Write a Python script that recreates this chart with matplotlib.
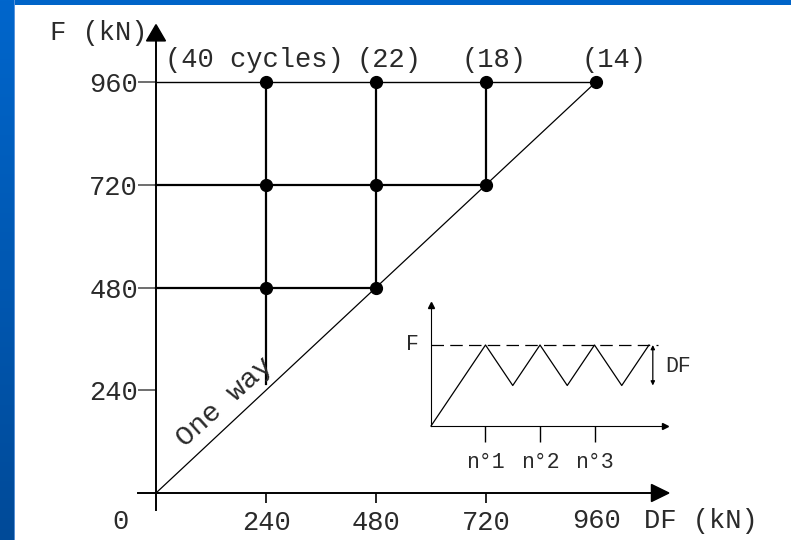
import numpy as np
import matplotlib.pyplot as plt
from matplotlib.patches import Polygon
from matplotlib.colors import LinearSegmentedColormap

# load levels (kN) and the cycle counts reached at the top level
levels = [240, 480, 720, 960]
cycle_labels = ["(40 cycles)", "(22)", "(18)", "(14)"]
# test points (DF, F) in kN
pts_df = [240, 480, 720, 960, 240, 480, 720, 240, 480]
pts_f = [960, 960, 960, 960, 720, 720, 720, 480, 480]
# vertical paths: DF, F start, F end
vert_df = [240, 480, 720]
vert_top = [960, 960, 960]
vert_bot = [255, 480, 720]
# horizontal paths: F, DF end
horiz_f = [720, 480]
horiz_end = [720, 480]

# inset: sawtooth load history
saw_x = [0, 1, 1.5, 2, 2.5, 3, 3.5, 4]
saw_y = [0, 1, 0.5, 1, 0.5, 1, 0.5, 1]
cycle_ticks = [1, 2, 3]
cycle_names = ["n°1", "n°2", "n°3"]

W, H = 791, 540
fig = plt.figure(figsize=(W / 100, H / 100), dpi=100)
fig.patch.set_facecolor("#0064c8")

# gradient strip on the left
strip = fig.add_axes([0, 0, 15 / W, 1])
grad = np.linspace(0, 1, 256).reshape(-1, 1)
cmap = LinearSegmentedColormap.from_list("edge", ["#0066cc", "#004a98"])
strip.imshow(grad, aspect="auto", cmap=cmap, extent=[0, 1, 0, 1], origin="upper")
strip.axvline(0.97, color="#6a9ee0", lw=1.2)
strip.set_axis_off()

txt = dict(family=["Liberation Mono", "DejaVu Sans Mono"], color="#2a2a2a")
FS = 19.5

# main diagram, scaled so that 240 kN = 110 px across and 103 px up
sx, sy = 440 / 960, 411 / 960
ox, oy = 156, 493
ax = fig.add_axes([15 / W, 0, (W - 15) / W, (H - 5) / H])
ax.set_xlim((15 - ox) / sx, (W - ox) / sx)
ax.set_ylim((oy - H) / sy, (oy - 5) / sy)
ax.set_facecolor("white")

for s in ["top", "right"]:
    ax.spines[s].set_visible(False)
ax.spines["left"].set_position(("data", 0))
ax.spines["bottom"].set_position(("data", 0))
ax.spines["left"].set_bounds(-40, 1060)
ax.spines["bottom"].set_bounds(-39, 1085)
ax.spines["left"].set_linewidth(1.4)
ax.spines["bottom"].set_linewidth(1.4)

ax.set_yticks(levels)
ax.set_yticklabels([str(v) for v in levels], fontsize=FS, **txt)
ax.tick_params(axis="y", direction="out", length=13, width=1.2,
               color="#555555", pad=0)
ax.set_xticks(levels[:3])
ax.set_xticklabels([str(v) for v in levels[:3]], fontsize=FS, **txt)
ax.tick_params(axis="x", direction="out", length=7, width=1.2, pad=5)
# last DF level is labelled without a tick mark
ax.text(levels[3], -66, str(levels[3]), ha="center", va="center",
        fontsize=FS, **txt)

# arrow heads
ax.add_patch(Polygon([[0, 1094], [-20.7, 1056], [20.7, 1056]],
                     closed=True, color="black", zorder=5))
ax.add_patch(Polygon([[1119, 0], [1081, -19.9], [1081, 19.9]],
                     closed=True, color="black", zorder=5))

# one-way line
ax.plot([0, 960], [0, 960], color="black", lw=0.9)
ax.text(150, 212, "One way", rotation=42, ha="center", va="center",
        fontsize=20.5, rotation_mode="anchor", **txt)

# load paths
ax.plot([0, 960], [960, 960], color="black", lw=1.0)
for f, e in zip(horiz_f, horiz_end):
    ax.plot([0, e], [f, f], color="black", lw=1.6)
for d, t, b in zip(vert_df, vert_top, vert_bot):
    ax.plot([d, d], [b, t], color="black", lw=1.6)
ax.plot(pts_df, pts_f, "o", color="black", ms=8.5, zorder=6)

label_shift = [-25, 28, 17, 39]
for d, lab, sh in zip(levels, cycle_labels, label_shift):
    ax.text(d + sh, 1012, lab, ha="center", va="center", fontsize=FS, **txt)

ax.text(-126, 1075, "F (kN)", ha="center", va="center", fontsize=FS, **txt)
ax.text(-78, -68, "0", ha="center", va="center", fontsize=FS, **txt)
ax.text(1065, -66, "DF (kN)", ha="left", va="center", fontsize=FS, **txt)

# inset sketch of the loading sequence
ux, uy = 54.5, 81
ix0, iy0 = 431, 426
L, R, T, B = 400, 700, 290, 480
ins = fig.add_axes([L / W, (H - B) / H, (R - L) / W, (B - T) / H])
ins.set_xlim((L - ix0) / ux, (R - ix0) / ux)
ins.set_ylim((iy0 - B) / uy, (iy0 - T) / uy)
ins.patch.set_alpha(0)
for s in ["top", "right"]:
    ins.spines[s].set_visible(False)
ins.spines["left"].set_position(("data", 0))
ins.spines["bottom"].set_position(("data", 0))
ins.spines["left"].set_bounds(0, 1.47)
ins.spines["bottom"].set_bounds(0, 4.27)
ins.set_yticks([])
ins.set_xticks(cycle_ticks)
ins.set_xticklabels(cycle_names, fontsize=15.5, **txt)
ins.tick_params(axis="x", direction="out", length=11.5, width=1.0, pad=7)
ins.plot(4.3, 0, ">", color="black", ms=4, clip_on=False)
ins.plot(0, 1.5, "^", color="black", ms=4, clip_on=False)

ins.plot(saw_x, saw_y, color="black", lw=0.9)
ins.plot([0, 4.17], [1, 1], color="black", lw=0.9, dashes=(10, 5))
ins.annotate("", xy=(4.07, 0.5), xytext=(4.07, 1.0),
             arrowprops=dict(arrowstyle="<|-|>", lw=0.9, color="black",
                             mutation_scale=6, shrinkA=0, shrinkB=0))
ins.text(-0.34, 1.0, "F", ha="center", va="center", fontsize=15.5, **txt)
ins.text(4.3, 0.73, "DF", ha="left", va="center", fontsize=15.5, **txt)

fig.savefig("out.png", dpi=100, facecolor=fig.get_facecolor())
